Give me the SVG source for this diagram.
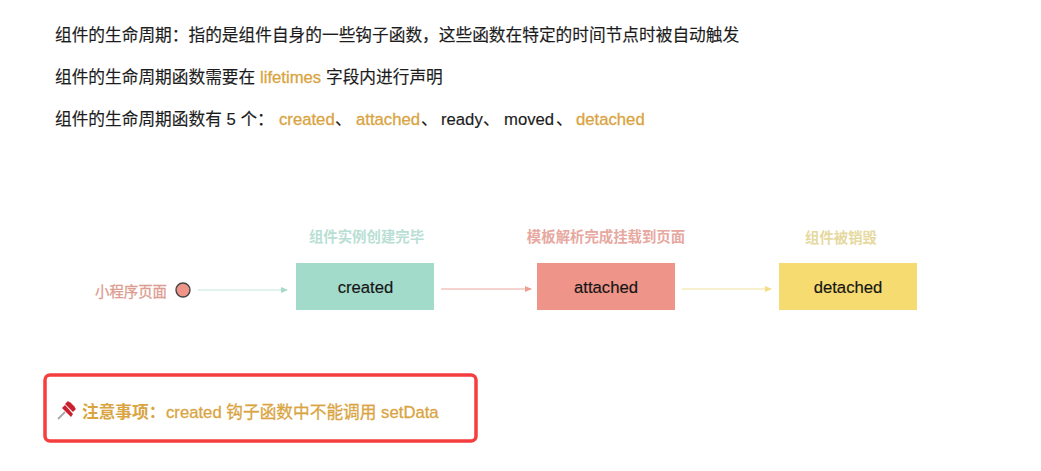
<svg xmlns="http://www.w3.org/2000/svg" width="1041" height="471" viewBox="0 0 1041 471">
<style>
text{font-family:"Liberation Sans","Noto Sans CJK SC",sans-serif}
.t{font-size:16.700px;fill:#1c1c1c;stroke:#1c1c1c;stroke-width:.15}
.o{fill:#d9a441;stroke:#d9a441;stroke-width:.3}
.cap{font-size:14.400px;font-weight:bold;text-anchor:middle}
.n{font-size:16.700px;fill:#151515;text-anchor:middle;stroke:#151515;stroke-width:.15}
.c{fill:none;stroke-width:1}
</style>
<defs>
<marker id="ag" markerWidth="7" markerHeight="6" refX="6" refY="3" orient="auto" markerUnits="userSpaceOnUse"><path d="M0 0L7 3L0 6z" fill="#a4dacb"/></marker>
<marker id="ar" markerWidth="7" markerHeight="6" refX="6" refY="3" orient="auto" markerUnits="userSpaceOnUse"><path d="M0 0L7 3L0 6z" fill="#ee9f94"/></marker>
<marker id="ay" markerWidth="7" markerHeight="6" refX="6" refY="3" orient="auto" markerUnits="userSpaceOnUse"><path d="M0 0L7 3L0 6z" fill="#f4dd86"/></marker>
</defs>
<rect width="1041" height="471" fill="#fff"/>
<g id="intro">
<text class="t" x="55" y="41">组件的生命周期：指的是组件自身的一些钩子函数，这些函数在特定的时间节点时被自动触发</text>
<text class="t" x="55" y="83">组件的生命周期函数需要在</text>
<text class="t o" x="260" y="83">lifetimes</text>
<text class="t" x="326" y="83">字段内进行声明</text>
<text class="t" x="55" y="125">组件的生命周期函数有 5 个：</text>
<text class="t o" x="279" y="125">created</text><text class="t" x="335" y="125">、</text>
<text class="t o" x="356" y="125">attached</text><text class="t" x="421" y="125">、</text>
<text class="t" x="441" y="125">ready</text><text class="t" x="483" y="125">、</text>
<text class="t" x="504" y="125">moved</text><text class="t" x="556" y="125">、</text>
<text class="t o" x="576" y="125">detached</text>
</g>
<g id="page">
<text x="131" y="297" font-size="14.400" text-anchor="middle" fill="#dd9c90" stroke="#dd9c90" stroke-width=".3">小程序页面</text>
<circle cx="183" cy="290" r="7" fill="#ef9488" stroke="#444" stroke-width="1.400"/>
</g>
<g id="created">
<text class="cap" x="366.500" y="242" fill="#b9dfd5">组件实例创建完毕</text>
<rect x="296" y="263" width="138" height="47" fill="#a3dbcb"/>
<text class="n" x="365.500" y="292.500">created</text>
</g>
<g id="attached">
<text class="cap" x="606" y="242" fill="#e7a8a0">模板解析完成挂载到页面</text>
<rect x="537" y="263" width="138" height="47" fill="#ef9488"/>
<text class="n" x="606" y="292.500">attached</text>
</g>
<g id="detached">
<text class="cap" x="841" y="243" fill="#e6d9a0">组件被销毁</text>
<rect x="779" y="263" width="138" height="47" fill="#f6dc70"/>
<text class="n" x="848" y="292.500">detached</text>
</g>
<g id="connectors">
<line class="c" x1="198" y1="290" x2="287" y2="290" stroke="#c4e5dc" marker-end="url(#ag)"/>
<line class="c" x1="441" y1="289" x2="531" y2="289" stroke="#eca79e" marker-end="url(#ar)"/>
<line class="c" x1="682" y1="289" x2="771" y2="289" stroke="#f2e29c" marker-end="url(#ay)"/>
</g>
<g id="note">
<rect x="45" y="375" width="431" height="66" rx="5" fill="#fff" stroke="#f53e3e" stroke-width="3.500"/>
<path d="M58 419L65 412" stroke="#a8a8a8" stroke-width="1.800" fill="none"/>
<path d="M62 408L71 417L73 414L65 405z" fill="#c9202f"/>
<path d="M66 404L73 411L75 407L70 402z" fill="#d42a38"/>
<path d="M65 404L68 401L76 409L73 412z" fill="#c9202f"/>
<text x="82" y="418" font-size="16.700" font-weight="bold" fill="#d9a441">注意事项：</text>
<text class="t o" x="166" y="418">created 钩子函数中不能调用 setData</text>
</g>
</svg>
